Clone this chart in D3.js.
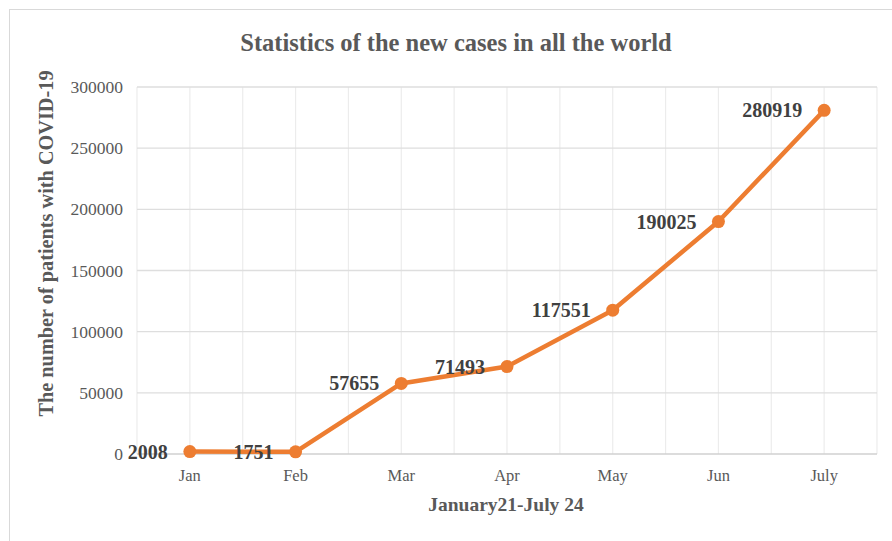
<!DOCTYPE html>
<html>
<head>
<meta charset="utf-8">
<script src="https://cdn.jsdelivr.net/npm/d3@7"></script>
<style>
  body { margin: 0; background: #fff; }
  text { font-family: "Liberation Serif", "Times New Roman", serif; }
</style>
</head>
<body>
<div id="chart"></div>
<script>
const months = ["Jan", "Feb", "Mar", "Apr", "May", "Jun", "July"];
const newCases = [2008, 1751, 57655, 71493, 117551, 190025, 280919];
const yTicks = [0, 50000, 100000, 150000, 200000, 250000, 300000];

const width = 892, height = 541;
const margin = { top: 87, right: 15, bottom: 87, left: 137 };

const svg = d3.select("#chart").append("svg")
  .attr("width", width)
  .attr("height", height);

// chart frame
svg.append("rect")
  .attr("x", 9.5).attr("y", 9.5)
  .attr("width", width).attr("height", height)
  .attr("fill", "none")
  .attr("stroke", "#d9d9d9");

const x = d3.scaleBand()
  .domain(months)
  .range([margin.left, width - margin.right]);

const y = d3.scaleLinear()
  .domain([0, 300000])
  .range([height - margin.bottom, margin.top]);

// vertical grid at every half band
const half = x.bandwidth() / 2;
const vLines = d3.range(months.length * 2 + 1).map((i) => margin.left + i * half);
svg.append("g")
  .selectAll("line")
  .data(vLines)
  .join("line")
  .attr("x1", (d) => d).attr("x2", (d) => d)
  .attr("y1", y(300000)).attr("y2", y(0))
  .attr("stroke", "#ececec")
  .attr("stroke-width", 1.2);

// horizontal grid
svg.append("g")
  .selectAll("line")
  .data(yTicks)
  .join("line")
  .attr("x1", margin.left).attr("x2", width - margin.right)
  .attr("y1", (d) => y(d)).attr("y2", (d) => y(d))
  .attr("stroke", (d) => (d === 0 ? "#d0d0d0" : "#dedede"))
  .attr("stroke-width", 1.3);

// y axis labels
const yAxis = svg.append("g")
  .attr("transform", `translate(${margin.left - 14},0)`)
  .call(d3.axisLeft(y).tickValues(yTicks).tickSize(0).tickPadding(0).tickFormat(d3.format("d")));
yAxis.select(".domain").remove();
yAxis.selectAll("text")
  .attr("font-family", "Liberation Serif")
  .attr("font-size", 17.5)
  .attr("fill", "#595959");

// x axis labels
const xAxis = svg.append("g")
  .attr("transform", `translate(0,${y(0) + 15})`)
  .call(d3.axisBottom(x).tickSize(0).tickPadding(0));
xAxis.select(".domain").remove();
xAxis.selectAll("text")
  .attr("font-family", "Liberation Serif")
  .attr("font-size", 16.5)
  .attr("fill", "#595959");

// line
const cx = (d, i) => x(months[i]) + half;
const line = d3.line()
  .x(cx)
  .y((d) => y(d));

svg.append("path")
  .datum(newCases)
  .attr("fill", "none")
  .attr("stroke", "#ed7d31")
  .attr("stroke-width", 4.5)
  .attr("stroke-linejoin", "round")
  .attr("d", line);

svg.append("g")
  .selectAll("circle")
  .data(newCases)
  .join("circle")
  .attr("cx", cx)
  .attr("cy", (d) => y(d))
  .attr("r", 6.5)
  .attr("fill", "#ed7d31");

// data labels, left of each point
svg.append("g")
  .selectAll("text")
  .data(newCases)
  .join("text")
  .attr("x", (d, i) => cx(d, i) - 22)
  .attr("y", (d) => y(d) + 7)
  .attr("text-anchor", "end")
  .attr("font-weight", "bold")
  .attr("font-size", 20)
  .attr("fill", "#404040")
  .text((d) => d);

// title
svg.append("text")
  .attr("x", 456).attr("y", 51)
  .attr("text-anchor", "middle")
  .attr("font-weight", "bold")
  .attr("font-size", 24.5)
  .attr("fill", "#595959")
  .text("Statistics of the new cases in all the world");

// axis titles
svg.append("text")
  .attr("x", 506).attr("y", 511)
  .attr("text-anchor", "middle")
  .attr("font-weight", "bold")
  .attr("font-size", 19.5)
  .attr("fill", "#595959")
  .text("January21-July 24");

svg.append("text")
  .attr("transform", `translate(53,${(y(0) + y(300000)) / 2 - 27}) rotate(-90)`)
  .attr("text-anchor", "middle")
  .attr("font-weight", "bold")
  .attr("font-size", 20.3)
  .attr("fill", "#595959")
  .text("The number of patients with COVID-19");
</script>
</body>
</html>
